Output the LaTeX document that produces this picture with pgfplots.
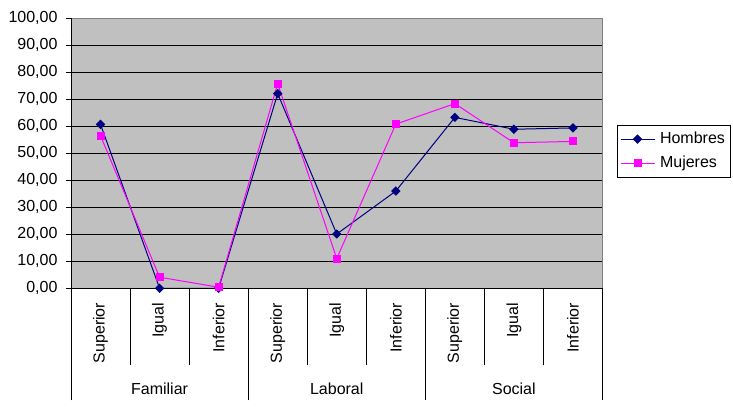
\documentclass[border=0pt]{standalone}
\usepackage{fontspec}
\setmainfont{Liberation Sans}
\usepackage{pgfplots}
\pgfplotsset{compat=1.18}
\definecolor{plotgray}{HTML}{C0C0C0}
\definecolor{hombres}{HTML}{000080}
\definecolor{mujeres}{HTML}{FF00FF}
\begin{document}
\fontsize{16}{19}\selectfont
\begin{tikzpicture}[x=1pt,y=1pt]
\path[use as bounding box] (0,0) rectangle (733,411);
\begin{axis}[
    at={(71pt,122.7pt)}, anchor=south west,
    scale only axis,
    width=531.5pt, height=270pt,
    xmin=0.5, xmax=9.5,
    ymin=0, ymax=100,
    ytick={0,10,...,100},
    yticklabel style={font=\fontsize{16}{19}\selectfont, xshift=-3pt,
        /pgf/number format/fixed, /pgf/number format/fixed zerofill,
        /pgf/number format/precision=2, /pgf/number format/use comma,
        /pgf/number format/assume math mode=true},
    xtick={1,...,9},
    xticklabels={Superior,Igual,Inferior,Superior,Igual,Inferior,Superior,Igual,Inferior},
    xticklabel style={rotate=90, anchor=east, font=\fontsize{16}{19}\selectfont},
    xticklabel shift=4pt,
    minor xtick={1.5,2.5,4.5,5.5,7.5,8.5},
    extra x ticks={0.5,3.5,6.5,9.5},
    extra x tick labels={},
    extra x tick style={grid=none, major tick length=112pt, major x tick style={draw=black, line width=0.8pt}},
    tick align=outside,
    tick pos=left,
    major tick length=5pt,
    major x tick style={draw=none},
    minor x tick style={black, line width=0.8pt},
    minor tick length=77pt,
    y tick style={black, line width=0.8pt},
    ymajorgrids,
    major grid style={black, line width=1pt},
    axis line style={gray, line width=1pt},
    axis background/.style={fill=plotgray},
    clip=false,
    legend style={at={(axis description cs:1.027,0.605)}, anchor=north west,
        draw=black, fill=white, font=\fontsize{16}{19}\selectfont,
        inner xsep=3pt, inner ysep=5pt, row sep=6pt, cells={anchor=west},
        /tikz/every odd column/.append style={column sep=3pt}},
    legend image code/.code={\draw[mark repeat=2,mark phase=2] plot coordinates {(0pt,0pt) (17pt,0pt) (34pt,0pt)};},
]
\addplot[hombres, line width=1pt, mark=diamond*, mark size=4pt, mark options={solid, fill=hombres, xscale=1.33}]
  coordinates {(1,60.7) (2,0) (3,0) (4,72.1) (5,20.1) (6,36.0) (7,63.3) (8,58.9) (9,59.4)};
\addlegendentry{Hombres}
\addplot[mujeres, line width=1pt, mark=square*, mark size=3.5pt, mark options={solid, fill=mujeres}]
  coordinates {(1,56.5) (2,4.1) (3,0.4) (4,75.8) (5,11.0) (6,60.8) (7,68.4) (8,53.9) (9,54.4)};
\addlegendentry{Mujeres}
\draw[black, line width=1pt] (rel axis cs:0,0) -- (rel axis cs:0,1);
\draw[black, line width=1pt] (rel axis cs:0,0) -- (rel axis cs:1,0);
\node[font=\fontsize{16}{19}\selectfont] at (axis cs:2,0) [yshift=-100pt] {Familiar};
\node[font=\fontsize{16}{19}\selectfont] at (axis cs:5,0) [yshift=-100pt] {Laboral};
\node[font=\fontsize{16}{19}\selectfont] at (axis cs:8,0) [yshift=-100pt] {Social};
\end{axis}
\end{tikzpicture}
\end{document}
